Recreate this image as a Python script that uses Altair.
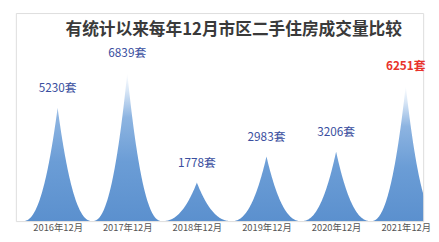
import altair as alt
import pandas as pd

categories = ['2016年12月', '2017年12月', '2018年12月', '2019年12月', '2020年12月', '2021年12月']
values = [5230, 6839, 1778, 2983, 3206, 6251]
unit = '套'
highlight = [False, False, False, False, False, True]
title_text = '有统计以来每年12月市区二手住房成交量比较'

df = pd.DataFrame({
    'cat': categories,
    'value': values,
    'i': list(range(len(categories))),
    'hl': highlight,
})
df['label'] = [f'{v}{unit}' for v in values]
title_df = pd.DataFrame({'t': [title_text]})

FONT = 'Noto Sans CJK SC'
W, H = 415, 212
x_scale = alt.Scale(domain=[-0.6, len(categories) - 0.75], nice=False, zero=False)
y_scale = alt.Scale(domain=[0, 9600], nice=False)
label_expr = "[" + ",".join(f"'{c}'" for c in categories) + "][datum.value]"

base = alt.Chart(df)

# spike glyph with concave flanks
spikes = base.transform_calculate(
    d="sequence(-0.5, 0.501, 0.00625)"
).transform_flatten(['d']).transform_calculate(
    px="datum.i + datum.d",
    py="datum.value * pow(max(0, 1 - 2 * abs(datum.d)), 2.3)",
).mark_area(
    interpolate='linear',
    clip=True,
    color=alt.Gradient(
        gradient='linear', x1=0, y1=0, x2=0, y2=1,
        stops=[
            alt.GradientStop(offset=0, color='#ffffff'),
            alt.GradientStop(offset=0.12, color='#d8e6f6'),
            alt.GradientStop(offset=0.3, color='#8db4e1'),
            alt.GradientStop(offset=0.6, color='#6b9dd6'),
            alt.GradientStop(offset=1, color='#5b90ce'),
        ],
    ),
).encode(
    x=alt.X('px:Q', scale=x_scale,
            axis=alt.Axis(values=list(range(len(categories))), labelExpr=label_expr,
                          title=None, ticks=False, grid=False, domain=False,
                          labelFontSize=9.5, labelColor='#555555', labelPadding=2,
                          labelFont=FONT)),
    y=alt.Y('py:Q', scale=y_scale, axis=None),
    detail='cat:N',
)

labels_normal = base.transform_filter('!datum.hl').mark_text(
    dy=-20, fontSize=12, font=FONT, color='#3b4fa0', baseline='middle'
).encode(
    x=alt.X('i:Q', scale=x_scale),
    y=alt.Y('value:Q', scale=y_scale),
    text='label:N',
)

labels_hl = base.transform_filter('datum.hl').mark_text(
    dy=-20, fontSize=12, font=FONT, color='#e8322b', fontWeight='bold', baseline='middle'
).encode(
    x=alt.X('i:Q', scale=x_scale),
    y=alt.Y('value:Q', scale=y_scale),
    text='label:N',
)

title = alt.Chart(title_df).mark_text(
    fontSize=17, font=FONT, fontWeight='bold', color='#3a3a3a', baseline='middle', align='center'
).encode(
    x=alt.value(222),
    y=alt.value(17),
    text='t:N',
)

chart = alt.layer(spikes, labels_normal, labels_hl, title).properties(
    width=W,
    height=H,
    padding={'left': 8, 'top': 3, 'right': 0, 'bottom': 0},
).configure_view(stroke='#cccccc', strokeWidth=1).configure(background='white')

chart.save('out.html', embed_options={'renderer': 'svg', 'actions': False})
